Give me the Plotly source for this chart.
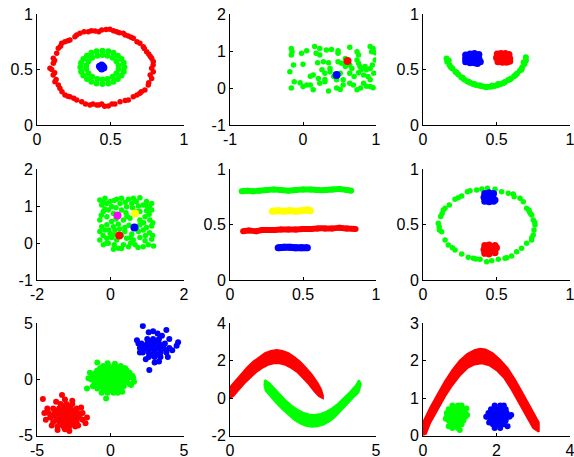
import plotly.graph_objects as go

RED = "#FF0000"; GREEN = "#00FF00"; BLUE = "#0000FF"; YELLOW = "#FFFF00"; MAGENTA = "#FF00FF"

# ---------------- Panel 1: concentric rings ----------------
p1_red = [(0.088,0.511),(0.111,0.556),(0.11,0.45),(0.122,0.39),(0.111,0.601),(0.134,0.646),(0.145,0.691),
          (0.168,0.736),(0.19,0.751),(0.224,0.766),(0.258,0.796),(0.292,0.826),(0.349,0.841),(0.395,0.847),
          (0.44,0.856),(0.496,0.862),(0.542,0.841),(0.587,0.826),(0.621,0.802),(0.655,0.781),(0.70,0.736),
          (0.723,0.706),(0.746,0.661),(0.78,0.601),(0.791,0.571),(0.78,0.511),(0.791,0.48),(0.78,0.42),
          (0.757,0.36),(0.734,0.315),(0.70,0.285),(0.655,0.255),(0.621,0.225),(0.565,0.21),(0.53,0.189),
          (0.485,0.171),(0.44,0.189),(0.406,0.18),(0.36,0.18),(0.304,0.21),(0.27,0.225),(0.224,0.255),
          (0.19,0.27),(0.156,0.33),(0.145,0.36),(0.10,0.50),(0.12,0.58),(0.16,0.71),(0.21,0.76),(0.27,0.81),
          (0.32,0.84),(0.37,0.85),(0.42,0.84),(0.47,0.86),(0.52,0.85),(0.56,0.83),(0.60,0.81),(0.64,0.79),
          (0.68,0.75),(0.73,0.69),(0.76,0.64),(0.77,0.62),(0.79,0.54),(0.77,0.45),(0.76,0.38),(0.71,0.30),
          (0.68,0.27),(0.60,0.22),(0.51,0.19),(0.46,0.17),(0.42,0.18),(0.38,0.19),(0.33,0.19),(0.25,0.24),
          (0.21,0.26),(0.17,0.30),(0.13,0.41),(0.12,0.47)]
p1_green = [(0.595,0.52),(0.59,0.56),(0.575,0.595),(0.55,0.625),(0.52,0.65),(0.485,0.665),(0.445,0.67),
            (0.405,0.665),(0.37,0.65),(0.34,0.625),(0.315,0.595),(0.30,0.56),(0.295,0.52),(0.30,0.48),
            (0.315,0.445),(0.34,0.415),(0.37,0.39),(0.405,0.375),(0.445,0.37),(0.485,0.375),(0.52,0.39),
            (0.55,0.415),(0.575,0.445),(0.59,0.48),
            (0.555,0.535),(0.54,0.575),(0.515,0.605),(0.48,0.625),(0.445,0.63),(0.41,0.625),(0.375,0.605),
            (0.35,0.575),(0.335,0.535),(0.335,0.505),(0.35,0.465),(0.375,0.435),(0.41,0.415),(0.445,0.41),
            (0.48,0.415),(0.515,0.435),(0.54,0.465),(0.555,0.505)]
p1_blue = [(0.43,0.52),(0.45,0.53),(0.44,0.505),(0.455,0.515),(0.425,0.53),(0.44,0.54)]

# ---------------- Panel 2: uniform square ----------------
p2_green = [(-0.16,1.07),(-0.15,0.98),(-0.16,0.89),(-0.02,0.94),(0.05,1.01),(0.16,1.12),(0.23,1.07),(0.23,0.89),
            (0.32,1.03),(0.39,1.04),(0.48,1.01),(0.48,0.94),(0.64,1.10),(0.74,0.98),(0.76,0.89),(0.92,1.12),
            (0.96,1.07),(0.94,0.98),(0.99,0.95),(-0.13,0.62),(0.0,0.64),(0.18,0.94),(0.2,0.68),(0.28,0.71),
            (0.35,0.68),(0.37,0.53),(0.26,0.49),(0.3,0.40),(0.48,0.71),(0.53,0.67),(0.58,0.8),(0.58,0.58),
            (0.64,0.62),(0.67,0.53),(0.74,0.76),(0.76,0.67),(0.78,0.58),(0.8,0.5),(0.85,0.58),(0.87,0.49),
            (0.92,0.53),(0.95,0.62),(0.99,0.76),(-0.18,0.44),(0.1,0.32),(0.14,0.35),(0.21,0.26),(0.3,0.23),
            (0.37,0.44),(0.42,0.31),(0.46,0.22),(0.51,0.40),(0.55,0.22),(0.64,0.40),(0.70,0.31),(0.76,0.41),
            (0.83,0.35),(0.89,0.31),(0.92,0.22),(0.97,0.40),(-0.12,0.17),(-0.04,0.14),(0.0,0.04),(0.05,0.08),
            (0.1,0.08),(0.14,-0.05),(0.23,0.13),(0.3,0.17),(0.35,-0.08),(0.46,0.0),(0.51,-0.04),(0.55,0.08),
            (0.64,0.13),(0.69,0.08),(0.74,-0.05),(0.79,0.0),(0.83,0.13),(0.87,0.05),(0.92,0.04),(0.96,0.01),
            (-0.16,0.0)]
p2_red = [(0.61,0.73)]
p2_blue = [(0.46,0.35)]

# ---------------- Panel 3: smiley ----------------
p3_green = [(0.16,0.60),(0.165,0.57),(0.18,0.54),(0.20,0.51),(0.22,0.48),(0.24,0.455),(0.26,0.43),(0.28,0.41),
            (0.30,0.395),(0.32,0.38),(0.34,0.37),(0.36,0.36),(0.38,0.355),(0.40,0.35),(0.42,0.345),(0.44,0.345),
            (0.46,0.345),(0.48,0.35),(0.50,0.355),(0.52,0.365),(0.54,0.375),(0.56,0.39),(0.58,0.405),(0.60,0.42),
            (0.62,0.44),(0.64,0.465),(0.66,0.49),(0.675,0.52),(0.69,0.55),(0.70,0.58),(0.70,0.61),
            (0.175,0.58),(0.19,0.52),(0.23,0.47),(0.27,0.425),(0.31,0.39),(0.35,0.37),(0.39,0.355),(0.43,0.34),
            (0.47,0.355),(0.51,0.37),(0.55,0.38),(0.59,0.41),(0.63,0.45),(0.67,0.5),(0.685,0.565)]
p3_blue = [(0.29,0.63),(0.32,0.64),(0.35,0.645),(0.38,0.635),(0.29,0.60),(0.32,0.60),(0.35,0.60),(0.38,0.60),
           (0.39,0.57),(0.29,0.57),(0.32,0.56),(0.35,0.56),(0.37,0.555)]
p3_red = [(0.505,0.64),(0.53,0.645),(0.56,0.645),(0.585,0.635),(0.50,0.605),(0.53,0.605),(0.56,0.605),(0.59,0.60),
          (0.51,0.57),(0.54,0.565),(0.57,0.565),(0.59,0.575)]

# ---------------- Panel 4: square with 4 clusters ----------------
p4_green = [(-0.29,1.16),(-0.15,1.21),(-0.01,1.12),(0.17,1.18),(0.30,1.21),(0.49,1.18),(0.62,1.21),(0.80,1.225),
            (0.98,1.12),(1.12,1.07),(-0.24,1.03),(-0.10,1.07),(0.03,0.98),(0.26,1.07),(0.44,0.98),(0.58,1.07),
            (0.76,1.0),(0.89,1.03),(1.06,0.96),(-0.195,0.85),(-0.06,0.89),(0.08,0.80),(0.30,0.89),(0.42,0.82),
            (0.80,0.85),(0.98,0.87),(1.12,0.89),(-0.29,0.62),(-0.10,0.71),(0.03,0.58),(0.35,0.62),(0.53,0.67),
            (0.80,0.62),(0.94,0.71),(1.07,0.62),(-0.24,0.44),(-0.10,0.49),(0.08,0.44),(0.21,0.51),(0.39,0.42),
            (0.80,0.49),(0.98,0.42),(1.12,0.46),(-0.29,0.31),(-0.15,0.35),(-0.01,0.26),(0.12,0.35),(0.39,0.31),
            (0.58,0.24),(0.76,0.31),(0.89,0.35),(1.06,0.28),(-0.29,0.08),(-0.10,0.13),(0.03,0.15),(0.17,0.08),
            (0.44,0.13),(0.62,0.08),(0.80,0.15),(0.94,0.06),(1.12,0.10),(-0.195,-0.05),(-0.06,-0.01),(0.08,-0.17),
            (0.21,-0.14),(0.35,-0.05),(0.49,-0.10),(0.67,-0.05),(0.89,-0.10),(1.03,-0.05),(1.17,-0.08),
            (-0.2,1.1),(0.1,1.15),(0.4,1.1),(0.7,1.12),(1.0,1.0),(-0.15,0.92),(0.15,0.95),(0.6,0.95),(0.7,0.85),
            (1.05,0.78),(-0.25,0.75),(0.15,0.65),(0.45,0.72),(0.9,0.55),(1.15,0.55),(-0.05,0.35),(0.25,0.38),
            (0.5,0.48),(0.7,0.40),(-0.2,0.2),(0.1,0.22),(0.3,0.2),(0.55,0.15),(0.95,0.2),(1.15,0.2),(0.1,-0.05),
            (0.55,0.0),(0.75,-0.12),(0.3,-0.15),(-0.1,0.0)]
p4_magenta = [(0.19,0.74)]
p4_yellow = [(0.67,0.80)]
p4_blue = [(0.65,0.42)]
p4_red = [(0.24,0.20)]

# ---------------- Panel 5: horizontal lines ----------------
p5_green = [(0.08,0.80),(0.12,0.805),(0.16,0.80),(0.2,0.805),(0.25,0.81),(0.3,0.815),(0.35,0.81),(0.4,0.805),
            (0.45,0.81),(0.5,0.815),(0.55,0.815),(0.6,0.81),(0.65,0.81),(0.7,0.815),(0.75,0.82),(0.8,0.81),(0.83,0.805)]
p5_yellow = [(0.29,0.62),(0.33,0.625),(0.37,0.62),(0.41,0.625),(0.45,0.62),(0.49,0.625),(0.53,0.63),(0.55,0.625)]
p5_red = [(0.09,0.44),(0.13,0.445),(0.18,0.44),(0.22,0.45),(0.3,0.45),(0.35,0.455),(0.4,0.455),(0.45,0.455),
          (0.5,0.46),(0.55,0.46),(0.6,0.465),(0.65,0.465),(0.7,0.465),(0.75,0.47),(0.8,0.465),(0.86,0.46)]
p5_blue = [(0.33,0.29),(0.37,0.295),(0.41,0.295),(0.45,0.29),(0.49,0.29),(0.53,0.29)]

# ---------------- Panel 6: ring with two blobs ----------------
p6_green = [(0.438,0.826),(0.49,0.817),(0.535,0.796),(0.58,0.781),(0.614,0.775),(0.66,0.736),(0.682,0.706),
            (0.705,0.646),(0.723,0.616),(0.739,0.586),(0.75,0.541),(0.762,0.495),(0.755,0.45),(0.75,0.405),
            (0.739,0.36),(0.705,0.33),(0.671,0.285),(0.637,0.255),(0.603,0.216),(0.558,0.195),(0.512,0.186),
            (0.467,0.174),(0.433,0.165),(0.388,0.186),(0.342,0.195),(0.308,0.204),(0.263,0.234),(0.218,0.27),
            (0.172,0.315),(0.15,0.36),(0.127,0.435),(0.111,0.45),(0.104,0.511),(0.12,0.571),(0.138,0.631),
            (0.15,0.646),(0.179,0.676),(0.218,0.727),(0.263,0.757),(0.302,0.796),(0.365,0.811),(0.32,0.805),
            (0.40,0.82),(0.62,0.75),(0.73,0.60),(0.76,0.52),(0.74,0.38),(0.57,0.20),(0.36,0.19),(0.20,0.29),
            (0.11,0.48),(0.13,0.60),(0.24,0.74),(0.72,0.63)]
p6_blue = [(0.42,0.78),(0.45,0.785),(0.48,0.78),(0.415,0.745),(0.445,0.745),(0.475,0.745),(0.49,0.72),
           (0.42,0.71),(0.45,0.705),(0.48,0.71)]
p6_red = [(0.42,0.31),(0.45,0.315),(0.49,0.31),(0.415,0.275),(0.45,0.275),(0.485,0.275),(0.42,0.24),
          (0.45,0.235),(0.49,0.245),(0.50,0.29)]

# ---------------- Panel 7: three gaussian clouds ----------------
p7_red = [(-3.4,-2.2),(-3.0,-2.2),(-2.6,-2.2),(-3.9,-2.6),(-3.5,-2.6),(-3.1,-2.6),(-2.7,-2.6),(-2.3,-2.6),
          (-4.2,-3.0),(-3.8,-3.0),(-3.4,-3.0),(-3.0,-3.0),(-2.6,-3.0),(-2.2,-3.0),(-1.9,-3.0),
          (-4.1,-3.4),(-3.7,-3.4),(-3.3,-3.4),(-2.9,-3.4),(-2.5,-3.4),(-2.1,-3.4),
          (-3.9,-3.8),(-3.5,-3.8),(-3.1,-3.8),(-2.7,-3.8),(-2.3,-3.8),(-3.6,-4.2),(-3.2,-4.2),(-2.8,-4.2),(-2.4,-4.2),
          (-3.7,-2.8),(-3.2,-2.8),(-2.8,-2.8),(-2.4,-2.8),(-3.9,-3.2),(-3.5,-3.2),(-3.1,-3.2),(-2.7,-3.2),(-2.3,-3.2),
          (-3.6,-3.6),(-3.2,-3.6),(-2.8,-3.6),(-2.4,-3.6),(-3.4,-4.0),(-3.0,-4.0),(-2.6,-4.0),(-3.2,-2.4),(-2.8,-2.4),
          (-4.6,-1.75),(-3.3,-1.4),(-3.1,-1.8),(-2.6,-1.9),(-1.6,-3.4),(-1.7,-3.9),(-3.1,-4.45),(-3.6,-4.5),
          (-2.2,-4.1),(-4.4,-3.6),(-4.3,-2.6),(-2.0,-2.5),(-3.7,-2.0),(-2.8,-4.6),(-1.9,-3.6),(-4.0,-4.1),(-4.5,-3.0)]
p7_green = [(-0.5,1.2),(-0.1,1.2),(0.3,1.2),(0.7,1.2),(-0.9,0.8),(-0.5,0.8),(-0.1,0.8),(0.3,0.8),(0.7,0.8),(1.1,0.8),
            (-1.2,0.4),(-0.8,0.4),(-0.4,0.4),(0.0,0.4),(0.4,0.4),(0.8,0.4),(1.2,0.4),
            (-1.3,0.0),(-0.9,0.0),(-0.5,0.0),(-0.1,0.0),(0.3,0.0),(0.7,0.0),(1.1,0.0),
            (-1.1,-0.4),(-0.7,-0.4),(-0.3,-0.4),(0.1,-0.4),(0.5,-0.4),(0.9,-0.4),(1.3,-0.4),
            (-0.9,-0.8),(-0.5,-0.8),(-0.1,-0.8),(0.3,-0.8),(0.7,-0.8),(-0.6,-1.2),(-0.2,-1.2),(0.2,-1.2),
            (-0.7,1.0),(-0.3,1.0),(0.1,1.0),(0.5,1.0),(0.9,1.0),(-1.0,0.6),(-0.6,0.6),(-0.2,0.6),(0.2,0.6),(0.6,0.6),
            (1.0,0.6),(-1.1,0.2),(-0.7,0.2),(-0.3,0.2),(0.1,0.2),(0.5,0.2),(0.9,0.2),(1.3,0.2),(-0.9,-0.2),(-0.5,-0.2),
            (-0.1,-0.2),(0.3,-0.2),(0.7,-0.2),(1.1,-0.2),(-0.7,-0.6),(-0.3,-0.6),(0.1,-0.6),(0.5,-0.6),(0.9,-0.6),
            (-0.4,-1.0),(0.0,-1.0),(0.4,-1.0),
            (-1.6,-0.8),(-0.9,1.5),(-1.5,0.1),(-0.3,-1.7),(1.5,0.3),(1.6,-0.2),(1.3,0.6),(0.8,-1.1),(-1.2,-0.6),
            (0.3,1.4),(1.0,1.0),(-0.2,1.45),(1.55,0.1),(0.5,-1.2),(-1.4,0.6),(1.4,-0.5)]
p7_blue = [(2.5,3.6),(2.9,3.6),(3.3,3.6),(2.1,3.2),(2.5,3.2),(2.9,3.2),(3.3,3.2),(3.7,3.2),
           (2.0,2.8),(2.4,2.8),(2.8,2.8),(3.2,2.8),(3.6,2.8),(4.0,2.8),(2.2,2.4),(2.6,2.4),(3.0,2.4),(3.4,2.4),(3.8,2.4),
           (2.6,2.0),(3.0,2.0),(3.4,2.0),(2.7,3.4),(3.1,3.4),(2.3,3.0),(2.7,3.0),(3.1,3.0),(3.5,3.0),(2.2,2.6),
           (2.6,2.6),(3.0,2.6),(3.4,2.6),(3.8,2.6),(2.8,2.2),(3.2,2.2),
           (2.2,4.75),(2.6,4.2),(3.2,4.1),(3.8,4.4),(3.5,3.9),(4.6,3.3),(4.5,3.0),(1.9,3.2),(2.0,2.4),(2.64,0.84),
           (3.0,1.5),(3.3,1.6),(2.4,1.8),(3.9,2.0),(4.2,2.6),(1.8,3.5),(2.9,4.3),(4.0,3.6)]

# ---------------- Panel 8: two interleaved sine bands (upper edge, then lower edge) ----------------
p8_red_upper = [(0.0,0.58),(0.2,0.95),(0.4,1.3),(0.6,1.65),(0.8,1.95),(1.0,2.2),(1.2,2.4),(1.4,2.52),(1.6,2.57),
                (1.8,2.52),(2.0,2.4),(2.2,2.2),(2.4,1.95),(2.6,1.62),(2.8,1.25),(3.0,0.8),(3.12,0.45),(3.18,0.15)]
p8_red_lower = [(3.18,0.0),(3.05,0.1),(2.9,0.35),(2.7,0.75),(2.5,1.1),(2.3,1.4),(2.1,1.62),(1.9,1.78),(1.7,1.86),
                (1.5,1.86),(1.3,1.78),(1.1,1.62),(0.9,1.4),(0.7,1.12),(0.5,0.8),(0.3,0.45),(0.12,0.12),(0.0,0.0)]
p8_green_upper = [(1.2,0.97),(1.35,0.8),(1.5,0.55),(1.7,0.2),(1.9,-0.12),(2.1,-0.4),(2.3,-0.62),(2.5,-0.78),
                  (2.7,-0.88),(2.9,-0.9),(3.1,-0.85),(3.3,-0.72),(3.5,-0.55),(3.7,-0.3),(3.9,-0.02),(4.1,0.3),
                  (4.3,0.65),(4.42,0.95)]
p8_green_lower = [(4.48,0.75),(4.4,0.3),(4.2,0.0),(4.0,-0.35),(3.8,-0.7),(3.6,-1.0),(3.4,-1.25),(3.2,-1.42),
                  (3.0,-1.5),(2.8,-1.53),(2.6,-1.48),(2.4,-1.35),(2.2,-1.15),(2.0,-0.9),(1.8,-0.6),(1.6,-0.28),
                  (1.4,0.05),(1.22,0.4),(1.18,0.7)]

# ---------------- Panel 9: arch with two blobs ----------------
p9_red_upper = [(0.0,0.35),(0.2,0.75),(0.4,1.1),(0.6,1.45),(0.8,1.75),(1.0,2.0),(1.2,2.18),(1.4,2.28),(1.55,2.32),
                (1.7,2.3),(1.9,2.2),(2.1,2.02),(2.3,1.8),(2.5,1.5),(2.7,1.15),(2.9,0.78),(3.05,0.5),(3.15,0.35)]
p9_red_lower = [(3.15,0.1),(3.0,0.2),(2.8,0.55),(2.6,0.9),(2.4,1.25),(2.2,1.55),(2.0,1.75),(1.8,1.88),(1.6,1.93),
                (1.4,1.9),(1.2,1.8),(1.0,1.6),(0.8,1.35),(0.6,1.05),(0.4,0.7),(0.2,0.35),(0.08,0.05),(0.0,0.0)]
p9_green = [(0.8,0.8),(0.95,0.8),(1.05,0.8),(0.7,0.7),(0.8,0.7),(0.9,0.7),(1.0,0.7),(1.1,0.7),
            (0.65,0.6),(0.75,0.6),(0.85,0.6),(0.95,0.6),(1.05,0.6),(1.15,0.6),
            (0.65,0.5),(0.75,0.5),(0.85,0.5),(0.95,0.5),(1.05,0.5),(1.15,0.5),
            (0.7,0.4),(0.8,0.4),(0.9,0.4),(1.0,0.4),(1.1,0.4),(0.75,0.3),(0.85,0.3),(0.95,0.3),(1.05,0.3),
            (0.8,0.2),(0.95,0.2),(0.62,0.45),(1.2,0.55),(1.0,0.15),(0.7,0.25),(1.18,0.72)]
p9_blue = [(1.95,0.8),(2.1,0.8),(2.2,0.8),(1.85,0.7),(1.95,0.7),(2.05,0.7),(2.15,0.7),(2.25,0.7),
           (1.78,0.6),(1.88,0.6),(1.98,0.6),(2.08,0.6),(2.18,0.6),(2.28,0.6),
           (1.75,0.5),(1.85,0.5),(1.95,0.5),(2.05,0.5),(2.15,0.5),(2.25,0.5),(2.35,0.5),
           (1.85,0.4),(1.95,0.4),(2.05,0.4),(2.15,0.4),(2.25,0.4),(1.9,0.3),(2.0,0.3),(2.1,0.3),(2.2,0.3),
           (1.95,0.2),(2.1,0.2),(1.72,0.5),(2.4,0.55),(2.3,0.25),(1.8,0.35)]

# ---------------- Axes: ranges and ticks ----------------
x_ranges = [[0,1],[-1,1],[0,1],[-2,2],[0,1],[0,1],[-5,5],[0,5],[0,4]]
y_ranges = [[0,1],[-1,2],[0,1],[-1,2],[0,1],[0,1],[-5,5],[-2,4],[0,3]]
x_ticks = [[0,0.5,1],[-1,0,1],[0,0.5,1],[-2,0,2],[0,0.5,1],[0,0.5,1],[-5,0,5],[0,5],[0,2,4]]
y_ticks = [[0,0.5,1],[-1,0,1,2],[0,0.5,1],[-1,0,1,2],[0,0.5,1],[0,0.5,1],[-5,0,5],[-2,0,2,4],[0,1,2,3]]

W, H = 574, 457
col_px = [(37,184),(230,376),(423,570)]
row_px = [(14,125),(169,280),(323.3,435.5)]

fig = go.Figure()

def axes(panel):
    ax = "" if panel == 1 else str(panel)
    return dict(xaxis="x"+ax, yaxis="y"+ax)

def add(panel, pts, color, size, line_w=0):
    xs = [p[0] for p in pts]; ys = [p[1] for p in pts]
    kw = dict(x=xs, y=ys, showlegend=False, hoverinfo="skip",
              marker=dict(color=color, size=size, line=dict(width=0)), **axes(panel))
    if line_w:
        kw.update(mode="lines+markers", line=dict(color=color, width=line_w, shape="spline"))
    else:
        kw.update(mode="markers")
    fig.add_trace(go.Scatter(**kw))

def band(panel, upper, lower, color):
    pts = upper + lower + [upper[0]]
    fig.add_trace(go.Scatter(x=[p[0] for p in pts], y=[p[1] for p in pts], mode="lines",
                             fill="toself", fillcolor=color, line=dict(color=color, width=2),
                             showlegend=False, hoverinfo="skip", **axes(panel)))

add(1, p1_red, RED, 5.5); add(1, p1_green, GREEN, 6); add(1, p1_blue, BLUE, 7)
add(2, p2_green, GREEN, 5.5); add(2, p2_red, RED, 8); add(2, p2_blue, BLUE, 8)
add(3, p3_green, GREEN, 6); add(3, p3_blue, BLUE, 7); add(3, p3_red, RED, 7)
add(4, p4_green, GREEN, 5.5); add(4, p4_magenta, MAGENTA, 8); add(4, p4_yellow, YELLOW, 8)
add(4, p4_blue, BLUE, 8); add(4, p4_red, RED, 8)
add(5, p5_green, GREEN, 6, 6); add(5, p5_yellow, YELLOW, 7, 7); add(5, p5_red, RED, 6, 6); add(5, p5_blue, BLUE, 7, 7)
add(6, p6_green, GREEN, 5.5); add(6, p6_blue, BLUE, 7); add(6, p6_red, RED, 7)
add(7, p7_red, RED, 6); add(7, p7_green, GREEN, 6); add(7, p7_blue, BLUE, 6)
band(8, p8_red_upper, p8_red_lower, RED); band(8, p8_green_upper, p8_green_lower, GREEN)
band(9, p9_red_upper, p9_red_lower, RED); add(9, p9_green, GREEN, 6); add(9, p9_blue, BLUE, 6)

def fmt(v):
    return str(int(v)) if float(v).is_integer() else str(v)

layout = dict(width=W, height=H, margin=dict(l=0, r=0, t=0, b=0, autoexpand=False),
              paper_bgcolor="white", plot_bgcolor="white",
              font=dict(family="Liberation Sans, Arial, sans-serif", size=16, color="black"))
for i in range(9):
    r, c = divmod(i, 3)
    ax = "" if i == 0 else str(i+1)
    x0, x1 = col_px[c]; y0, y1 = row_px[r]
    common = dict(showline=True, linecolor="black", linewidth=1, ticks="inside", ticklen=3,
                  tickcolor="black", showgrid=False, zeroline=False, mirror=False, fixedrange=True,
                  automargin=False, ticklabeloverflow="allow")
    layout["xaxis"+ax] = dict(domain=[x0/W, x1/W], range=x_ranges[i], tickvals=x_ticks[i],
                              ticktext=[fmt(v) for v in x_ticks[i]], anchor="y"+ax, **common)
    layout["yaxis"+ax] = dict(domain=[1-y1/H, 1-y0/H], range=y_ranges[i], tickvals=y_ticks[i],
                              ticktext=[fmt(v) for v in y_ticks[i]], anchor="x"+ax, **common)
fig.update_layout(**layout)
fig.write_html("out.html", config={"displayModeBar": False},
               post_script="document.body.style.margin='0';document.body.style.overflow='hidden';")
